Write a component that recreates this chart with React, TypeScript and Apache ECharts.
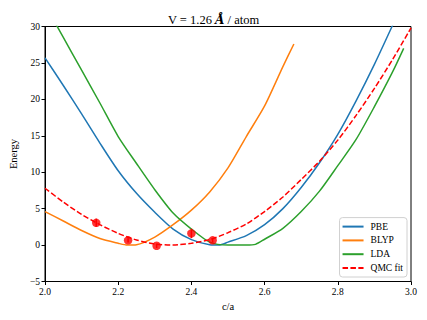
import React, { useEffect, useRef } from "react";
import * as echarts from "echarts";

const pbe: [number, number][] = [
  [2.0, 25.7], [2.05, 21.9], [2.1, 18.0], [2.15, 14.0], [2.2, 10.2], [2.25, 7.1],
  [2.3, 4.5], [2.35, 2.2], [2.4, 0.75], [2.45, 0.05], [2.475, 0.0], [2.5, 0.4],
  [2.55, 1.3], [2.6, 2.8], [2.65, 5.0], [2.7, 7.9], [2.75, 11.3], [2.8, 15.2],
  [2.85, 19.8], [2.9, 24.8], [2.95, 30.2],
];
const blyp: [number, number][] = [
  [2.0, 4.6], [2.05, 3.3], [2.1, 2.0], [2.15, 0.9], [2.2, 0.25], [2.225, 0.0],
  [2.25, 0.05], [2.3, 1.1], [2.35, 2.8], [2.4, 4.8], [2.45, 7.3], [2.5, 10.6],
  [2.55, 14.9], [2.6, 19.1], [2.65, 24.5], [2.68, 27.6],
];
const lda: [number, number][] = [
  [2.0, 33.0], [2.05, 28.5], [2.1, 24.0], [2.15, 19.5], [2.2, 14.9], [2.25, 11.2],
  [2.3, 7.6], [2.35, 4.4], [2.4, 2.2], [2.45, 0.4], [2.5, 0.0], [2.55, 0.0],
  [2.575, 0.1], [2.6, 0.8], [2.65, 2.3], [2.7, 4.6], [2.75, 7.4], [2.8, 10.9],
  [2.85, 14.5], [2.9, 19.0], [2.95, 23.8], [2.98, 27.0],
];
const qmcFit: [number, number][] = [
  [2.0, 7.8], [2.05, 5.9], [2.1, 4.2], [2.15, 2.8], [2.2, 1.6], [2.25, 0.7],
  [2.3, 0.15], [2.35, 0.0], [2.4, 0.25], [2.45, 0.75], [2.5, 1.7], [2.55, 2.9],
  [2.6, 4.6], [2.65, 6.6], [2.7, 9.0], [2.75, 11.5], [2.8, 14.4], [2.85, 17.8],
  [2.9, 21.5], [2.95, 25.5], [3.0, 29.8],
];
const qmcX = [2.14, 2.227, 2.305, 2.4, 2.458];
const qmcY = [3.05, 0.65, -0.1, 1.6, 0.65];
const qmcErr = [0.55, 0.3, 0.3, 0.65, 0.3];

const xTicks = [2.0, 2.2, 2.4, 2.6, 2.8, 3.0];
const yTicks = [-5, 0, 5, 10, 15, 20, 25, 30];

const FONT = "'Liberation Serif', 'DejaVu Serif', serif";

export default function App() {
  const ref = useRef<HTMLDivElement>(null);
  useEffect(() => {
    if (!ref.current) return;
    const chart = echarts.init(ref.current, undefined, { renderer: "svg" });
    const pts = qmcX.map((x, i) => [x, qmcY[i], qmcErr[i]]);
    const lineCommon = { type: "line", symbol: "none", smooth: 0.25 };
    chart.setOption({
      animation: false,
      backgroundColor: "#fff",
      textStyle: { fontFamily: FONT },
      title: {
        text: "{n|V = 1.26 }{i|Å}{n| / atom}",
        left: "center",
        top: 8,
        textStyle: {
          fontWeight: "normal",
          fontFamily: FONT,
          rich: {
            n: { fontFamily: FONT, fontWeight: "normal", fontSize: 12.5, color: "#000" },
            i: { fontFamily: "'DejaVu Serif', serif", fontStyle: "italic", fontWeight: "bold", fontSize: 12, color: "#000" },
          },
        },
      },
      grid: {
        left: 39, right: 16, top: 26.5, bottom: 38.5,
        show: true, borderColor: "#000", borderWidth: 1, backgroundColor: "transparent",
      },
      legend: {
        data: [
          { name: "PBE" }, { name: "BLYP" }, { name: "LDA" }, { name: "QMC fit" },
        ],
        orient: "vertical",
        right: 20,
        bottom: 43,
        itemWidth: 21,
        itemHeight: 10,
        itemGap: 3.8,
        padding: [4, 4, 4, 2],
        borderColor: "#d0d0d0",
        borderWidth: 1,
        borderRadius: 3,
        backgroundColor: "rgba(255,255,255,0.8)",
        itemStyle: { opacity: 0 },
        textStyle: { fontFamily: FONT, fontSize: 9.5, color: "#000", padding: [0, 0, 0, 2] },
      },
      xAxis: {
        type: "value",
        min: 2.0,
        max: 3.0,
        interval: 0.2,
        name: "c/a",
        nameLocation: "middle",
        nameGap: 19,
        nameTextStyle: { fontFamily: FONT, fontSize: 10.5, color: "#000" },
        axisLine: { show: true, onZero: false, lineStyle: { color: "#000", width: 1 } },
        axisTick: { show: true, length: 3.5, lineStyle: { color: "#000" } },
        axisLabel: {
          fontFamily: FONT, fontSize: 9.5, color: "#000", margin: 5,
          formatter: (v: number) => v.toFixed(1),
          customValues: xTicks,
        },
        splitLine: { show: false },
      },
      yAxis: {
        type: "value",
        min: -5,
        max: 30,
        interval: 5,
        name: "Energy",
        nameLocation: "middle",
        nameGap: 24,
        nameTextStyle: { fontFamily: FONT, fontSize: 10.5, color: "#000" },
        axisLine: { show: true, onZero: false, lineStyle: { color: "#000", width: 1 } },
        axisTick: { show: true, length: 3.5, lineStyle: { color: "#000" } },
        axisLabel: {
          fontFamily: FONT, fontSize: 9.5, color: "#000", margin: 5,
          formatter: (v: number) => (v < 0 ? "\u2212" + Math.abs(v) : String(v)),
          customValues: yTicks,
        },
        splitLine: { show: false },
      },
      series: [
        {
          ...lineCommon, name: "PBE", data: pbe,
          lineStyle: { color: "#1f77b4", width: 1.5 }, itemStyle: { color: "#1f77b4" },
        },
        {
          ...lineCommon, name: "BLYP", data: blyp,
          lineStyle: { color: "#ff7f0e", width: 1.5 }, itemStyle: { color: "#ff7f0e" },
        },
        {
          ...lineCommon, name: "LDA", data: lda,
          lineStyle: { color: "#2ca02c", width: 1.5 }, itemStyle: { color: "#2ca02c" },
        },
        {
          ...lineCommon, name: "QMC fit", data: qmcFit,
          lineStyle: { color: "#ff0000", width: 1.5, type: [5.5, 2.4] }, itemStyle: { color: "#ff0000" },
        },
        {
          name: "QMC err", type: "custom", data: pts,
          renderItem: (params: any, api: any) => {
            const x = api.value(0), y = api.value(1), e = api.value(2);
            const p1 = api.coord([x, y - e]);
            const p2 = api.coord([x, y + e]);
            return {
              type: "line",
              shape: { x1: p1[0], y1: p1[1], x2: p2[0], y2: p2[1] },
              style: { stroke: "#ff0000", lineWidth: 1.5 },
            };
          },
          z: 5,
        },
        {
          name: "QMC", type: "scatter", data: pts.map((p) => [p[0], p[1]]),
          symbol: "circle", symbolSize: 8.5, itemStyle: { color: "#ff0000" }, z: 6,
        },
      ],
    });
    return () => chart.dispose();
  }, []);
  return <div ref={ref} style={{ width: 427, height: 320, margin: -8 }} />;
}
